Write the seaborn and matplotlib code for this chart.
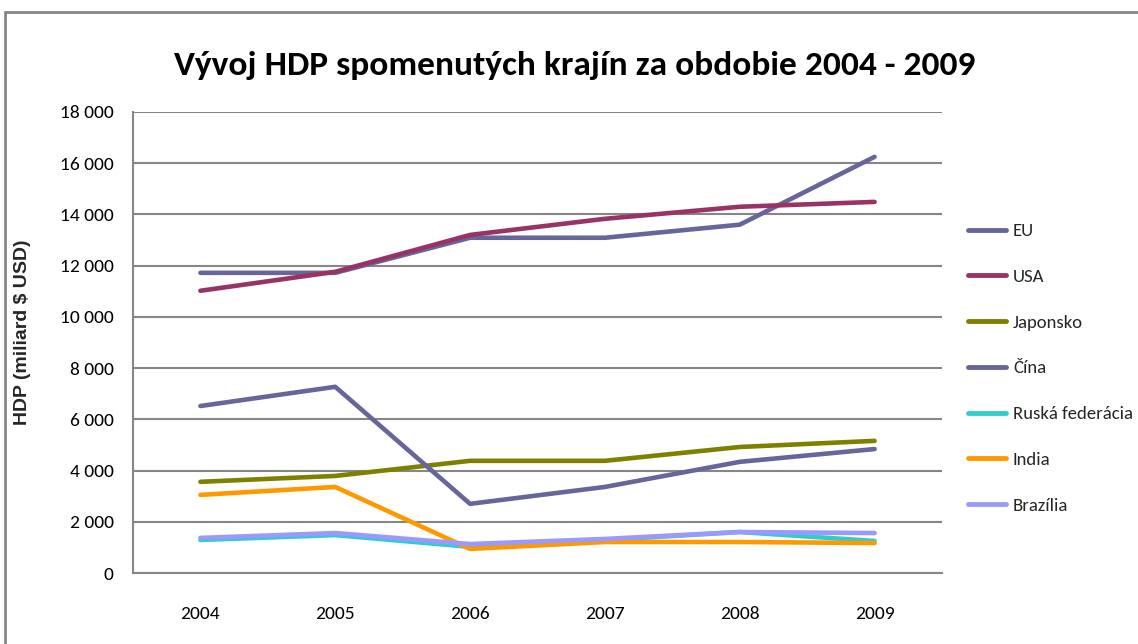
import seaborn as sns
import pandas as pd
import matplotlib
matplotlib.use("Agg")
from matplotlib import pyplot as plt
from matplotlib.ticker import FuncFormatter
from matplotlib.lines import Line2D

years = [2004, 2005, 2006, 2007, 2008, 2009]
countries = ["EU", "USA", "Japonsko", "Čína", "Ruská federácia", "India", "Brazília"]

eu = [11720, 11720, 13090, 13090, 13600, 16250]
usa = [11020, 11760, 13200, 13830, 14300, 14490]
japonsko = [3560, 3790, 4380, 4380, 4920, 5160]
cina = [6520, 7270, 2700, 3360, 4340, 4840]
ruska = [1290, 1480, 1020, 1290, 1600, 1250]
india = [3050, 3360, 940, 1210, 1210, 1170]
brazilia = [1370, 1560, 1130, 1330, 1600, 1560]

colors = ["#66669a", "#993366", "#808000", "#66669a", "#33cccc", "#ff9900", "#9999ff"]

def build_frame() -> pd.DataFrame:
    rows = []
    for name, vals in zip(countries, [eu, usa, japonsko, cina, ruska, india, brazilia]):
        for i, v in enumerate(vals):
            rows.append({"Rok": i, "HDP": v, "Krajina": name})
    return pd.DataFrame(rows)

def thousands(v, pos):
    return f"{int(v):,}".replace(",", " ")

def main():
    sns.set_style("white")
    plt.rcParams["font.family"] = ["Carlito", "DejaVu Sans"]
    df = build_frame()

    fig = plt.figure(figsize=(11.38, 6.44), dpi=100)
    ax = fig.add_axes([133 / 1138, 71 / 644, 809 / 1138, 461 / 644])

    # outer chart border (top and left visible)
    fig.add_artist(Line2D([5 / 1138, 1.0], [1 - 12 / 644, 1 - 12 / 644], color="#868686", lw=2))
    fig.add_artist(Line2D([5 / 1138, 5 / 1138], [0, 1 - 12 / 644], color="#868686", lw=2))

    sns.lineplot(data=df, x="Rok", y="HDP", hue="Krajina", palette=colors,
                 linewidth=3.3, ax=ax, legend=False, sort=False)

    ax.set_xlim(-0.5, 5.5)
    ax.set_ylim(0, 18000)
    ax.set_yticks(range(0, 18001, 2000))
    ax.yaxis.set_major_formatter(FuncFormatter(thousands))
    ax.set_xticks(range(6))
    ax.set_xticklabels([str(y) for y in years])
    ax.grid(axis="y", color="#868686", lw=1.5)
    ax.set_axisbelow(True)
    for s in ["top", "right"]:
        ax.spines[s].set_visible(False)
    for s in ["left", "bottom"]:
        ax.spines[s].set_color("#868686")
        ax.spines[s].set_linewidth(1.5)
    ax.tick_params(axis="y", labelsize=14, pad=14, length=0, labelcolor="black")
    ax.tick_params(axis="x", labelsize=14, pad=24, length=0, labelcolor="black")
    ax.set_xlabel("")
    ax.set_ylabel("")
    fig.text(23 / 1138, 1 - 332 / 644, "HDP (miliard $ USD)", rotation=90, ha="center",
             va="center", fontweight="bold", fontsize=14, family="Liberation Sans")

    fig.text(575 / 1138, 1 - 65 / 644, "Vývoj HDP spomenutých krajín za obdobie 2004 - 2009",
             ha="center", va="center", fontsize=25.5, fontweight="bold", color="black")

    handles = [Line2D([], [], color=c, lw=3.5) for c in colors]
    fig.legend(handles, countries, loc="upper left", bbox_to_anchor=(968 / 1138, 1 - 223 / 644),
               frameon=False, fontsize=13.5, handlelength=2.0, handletextpad=0.4,
               labelspacing=1.58, borderaxespad=0, borderpad=0)

    fig.savefig("out.png", dpi=100)

if __name__ == "__main__":
    main()
